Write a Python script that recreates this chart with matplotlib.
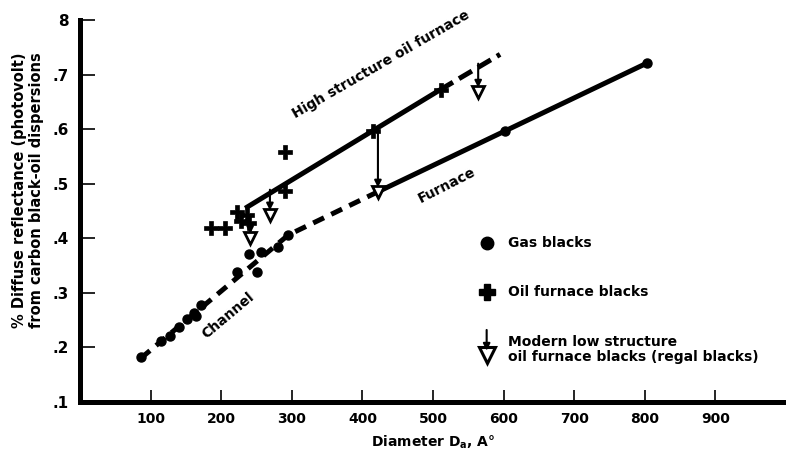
import matplotlib
matplotlib.use('Agg')
import matplotlib.pyplot as plt
import numpy as np

# ---- data ----
gas_x = [86, 115, 127, 140, 152, 161, 165, 172, 222, 240, 250, 256, 280, 295, 602, 803]
gas_y = [0.182, 0.211, 0.221, 0.238, 0.252, 0.263, 0.257, 0.278, 0.338, 0.371,
         0.339, 0.375, 0.384, 0.406, 0.597, 0.721]

oil_x = [185, 205, 222, 228, 236, 240, 290, 290, 415, 511]
oil_y = [0.418, 0.418, 0.449, 0.432, 0.442, 0.428, 0.559, 0.486, 0.597, 0.672]

regal_x = [241, 269, 422, 564]
regal_from = [0.432, 0.489, 0.597, 0.720]
regal_to = [0.400, 0.443, 0.485, 0.668]

# high-structure oil furnace curve (solid part then dashed part)
hs_x = [234, 510, 595]
hs_y = [0.455, 0.672, 0.737]

# channel / furnace curve (dashed part then solid part)
low_x = [86, 295, 420, 803]
low_y = [0.180, 0.406, 0.484, 0.721]

x_ticks = [100, 200, 300, 400, 500, 600, 700, 800, 900]
y_ticks = [0.1, 0.2, 0.3, 0.4, 0.5, 0.6, 0.7, 0.8]
y_ticklabels = ['.1', '.2', '.3', '.4', '.5', '.6', '.7', '8']

plt.rcParams['font.family'] = ['DejaVu Sans']
plt.rcParams['font.weight'] = 'bold'

W, H = 786, 451
fig = plt.figure(figsize=(W / 100, H / 100), dpi=100)
ax = fig.add_axes([80 / W, 49 / H, 706 / W, 382 / H])
ax.set_xlim(0, 1000)
ax.set_ylim(0.1, 0.8)

for s in ['top', 'right']:
    ax.spines[s].set_visible(False)
for s in ['left', 'bottom']:
    ax.spines[s].set_linewidth(3.6)

ax.set_xticks(x_ticks)
ax.set_xticklabels([str(v) for v in x_ticks], fontsize=10, fontweight='bold')
ax.set_yticks(y_ticks)
ax.set_yticklabels(y_ticklabels, fontsize=11, fontweight='bold')
ax.tick_params(axis='x', direction='in', length=9, width=1.2, pad=7)
ax.tick_params(axis='y', direction='in', length=11, width=1.2, pad=8)

lw = 3.6
# lines
ax.plot(hs_x[:2], hs_y[:2], color='black', lw=lw, solid_capstyle='butt', zorder=2)
ax.plot(hs_x[1:], hs_y[1:], color='black', lw=lw, dashes=(3.0, 1.4), zorder=2)
ax.plot(low_x[:3], low_y[:3], color='black', lw=lw, dashes=(2.4, 1.6), zorder=2)
ax.plot(low_x[2:], low_y[2:], color='black', lw=lw, solid_capstyle='butt', zorder=2)

# markers
ax.plot(gas_x, gas_y, 'o', color='black', ms=6.5, zorder=4)
ax.plot(oil_x, oil_y, 'P', color='black', ms=10, mew=0.5, zorder=4)
for x, y0, y1 in zip(regal_x, regal_from, regal_to):
    ax.annotate('', xy=(x, y1 + 0.008), xytext=(x, y0),
                arrowprops=dict(arrowstyle='-|>', color='black', lw=1.5,
                                mutation_scale=10, shrinkA=0, shrinkB=0), zorder=3)
ax.plot(regal_x, regal_to, 'v', mfc='white', mec='black', mew=2.0, ms=9, zorder=5)

# curve labels
ax.text(427, 0.719, 'High structure oil furnace', rotation=30, ha='center', va='center',
        fontsize=10, fontweight='bold')
ax.text(520, 0.498, 'Furnace', rotation=27, ha='center', va='center',
        fontsize=10, fontweight='bold')
ax.text(210, 0.258, 'Channel', rotation=40, ha='center', va='center',
        fontsize=10, fontweight='bold')

# legend (drawn in data coordinates like the original)
lx, tx = 576, 606
ax.plot([lx], [0.391], 'o', color='black', ms=9)
ax.text(tx, 0.391, 'Gas blacks', va='center', fontsize=10, fontweight='bold')
ax.plot([lx], [0.302], 'P', color='black', ms=12)
ax.text(tx, 0.302, 'Oil furnace blacks', va='center', fontsize=10, fontweight='bold')
ax.annotate('', xy=(lx, 0.194), xytext=(lx, 0.232),
            arrowprops=dict(arrowstyle='-|>', color='black', lw=1.5,
                            mutation_scale=10, shrinkA=0, shrinkB=0))
ax.plot([lx], [0.186], 'v', mfc='white', mec='black', mew=2.2, ms=11)
ax.text(tx, 0.2105, 'Modern low structure', va='center', fontsize=10, fontweight='bold')
ax.text(tx, 0.183, 'oil furnace blacks (regal blacks)', va='center', fontsize=10,
        fontweight='bold')

ax.set_xlabel('Diameter D$_\\mathbf{a}$, A°', fontsize=10, fontweight='bold', labelpad=6)
fig.text(20 / W, 1 - 190 / H, '% Diffuse reflectance (photovolt)', rotation=90,
         ha='center', va='center', fontsize=10.5, fontweight='bold')
fig.text(37 / W, 1 - 190 / H, 'from carbon black-oil dispersions', rotation=90,
         ha='center', va='center', fontsize=10.5, fontweight='bold')

fig.savefig('out.png', dpi=100)
